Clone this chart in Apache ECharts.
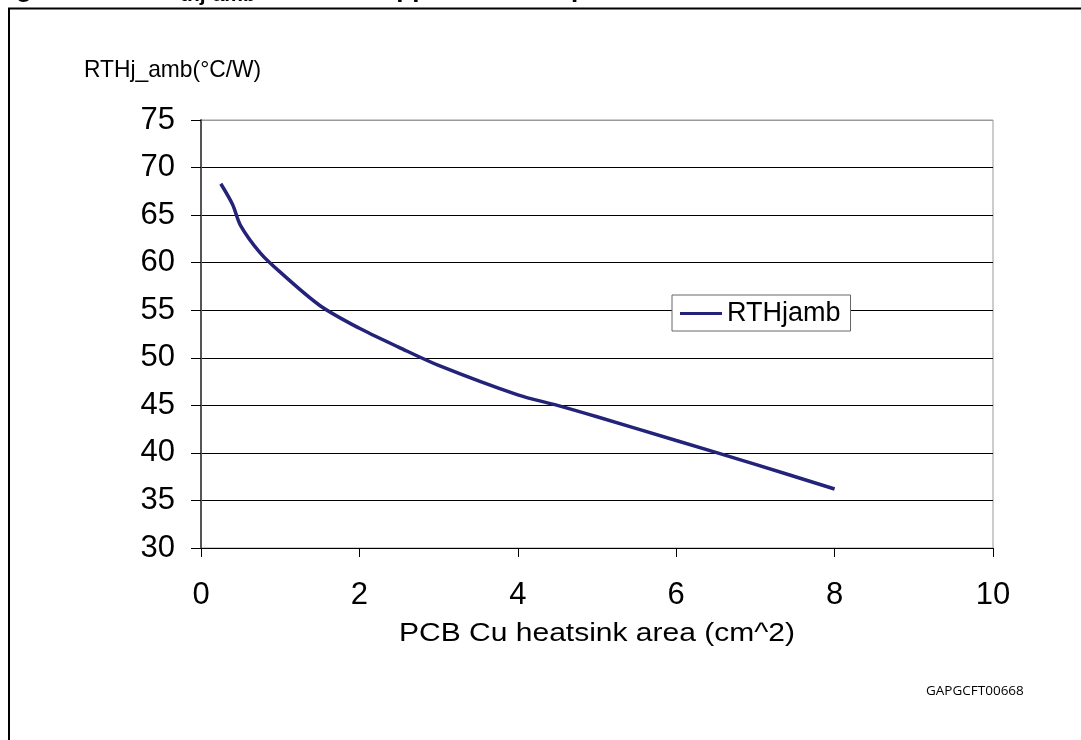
<!DOCTYPE html>
<html>
<head>
<meta charset="utf-8">
<script src="https://cdn.jsdelivr.net/npm/echarts@6/dist/echarts.min.js"></script>
<style>
html,body{margin:0;padding:0;background:#fff;}
#chart{width:1081px;height:740px;}
</style>
</head>
<body>
<div id="chart"></div>
<script>
// Data
const areaCm2 = [0.25, 0.4, 0.5, 0.75, 1, 1.5, 2, 2.5, 3, 4, 4.5, 5, 6, 7, 8];
const rthjAmb = [68.3, 66.1, 63.9, 61.0, 59.0, 55.5, 53.1, 51.1, 49.2, 46.1, 45.0, 43.8, 41.3, 38.8, 36.2];
const xTicks = [0, 2, 4, 6, 8, 10];
const yTicks = [30, 35, 40, 45, 50, 55, 60, 65, 70, 75];
const seriesName = 'RTHjamb';
const yName = 'RTHj_amb(°C/W)';
const xName = 'PCB Cu heatsink area (cm^2)';
const figId = 'GAPGCFT00668';

const chart = echarts.init(document.getElementById('chart'), null, {renderer: 'canvas'});
const font = 'Liberation Sans, Arial, sans-serif';
const gridColors = yTicks.map((v, i) => i === yTicks.length - 1 ? '#9a9a9a' : '#000');

chart.setOption({
  animation: false,
  backgroundColor: '#fff',
  grid: {left: 201, right: 88, top: 120, bottom: 192, show: true, borderColor: '#9a9a9a', borderWidth: 1, backgroundColor: 'transparent'},
  xAxis: {
    type: 'value', min: xTicks[0], max: xTicks[xTicks.length - 1], interval: 2,
    axisLine: {show: true, lineStyle: {color: '#000', width: 1}},
    axisTick: {show: true, inside: false, length: 9, lineStyle: {color: '#000'}},
    axisLabel: {fontFamily: font, fontSize: 31, color: '#000', margin: 32},
    splitLine: {show: false}
  },
  yAxis: {
    type: 'value', min: yTicks[0], max: yTicks[yTicks.length - 1], interval: 5,
    axisLine: {show: true, lineStyle: {color: '#555', width: 2}},
    axisTick: {show: true, inside: false, length: 10, lineStyle: {color: '#000'}},
    axisLabel: {fontFamily: font, fontSize: 31, color: '#000', margin: 26},
    splitLine: {show: true, lineStyle: {color: gridColors, width: 1}}
  },
  legend: {
    show: true, left: 672, top: 295, orient: 'horizontal',
    backgroundColor: '#fff', borderColor: '#666', borderWidth: 1, borderRadius: 0,
    padding: [5, 10, 4, 8],
    icon: 'rect', itemWidth: 42, itemHeight: 3, itemGap: 5,
    textStyle: {fontFamily: font, fontSize: 27, color: '#000', padding: [0, 0, 0, 0]},
    data: [seriesName]
  },
  series: [{
    name: seriesName, type: 'line', showSymbol: false, symbol: 'none', smooth: 0.3,
    lineStyle: {color: '#23237a', width: 3.5}, itemStyle: {color: '#23237a'},
    data: areaCm2.map((x, i) => [x, rthjAmb[i]])
  }],
  graphic: [
    {type: 'text', x: -7, y: -10, style: {text: 'Figure 6.', font: 'bold 26px ' + font, fill: '#000', verticalAlign: 'middle'}},
    {type: 'text', x: 180, y: -5, style: {text: 'thj-amb', font: 'bold 21px ' + font, fill: '#000', verticalAlign: 'middle'}},
    {type: 'text', x: 366, y: -10, style: {text: 'copper', font: 'bold 26px ' + font, fill: '#000', verticalAlign: 'middle'}},
    {type: 'text', x: 555, y: -10, style: {text: 'open', font: 'bold 26px ' + font, fill: '#000', verticalAlign: 'middle'}},
    {type: 'rect', shape: {x: 0, y: 7, width: 1081, height: 22}, style: {fill: '#fff'}},
    {type: 'polyline', shape: {points: [[9, 740], [9, 8.5], [1081, 8.5]]}, style: {stroke: '#000', lineWidth: 2, fill: null}},
    {type: 'text', x: 84, y: 70, scaleX: 0.95, originX: 0, originY: 0, style: {text: yName, font: '24px ' + font, fill: '#000', verticalAlign: 'middle'}},
    {type: 'text', x: 597, y: 634, scaleX: 1.2, originX: 0, originY: 0, style: {text: xName, font: '25px ' + font, fill: '#000', align: 'center', verticalAlign: 'middle'}},
    {type: 'text', x: 926, y: 691, style: {text: figId, font: '13.5px "Open Sans", sans-serif', fill: '#000', verticalAlign: 'middle'}}
  ]
});
</script>
</body>
</html>
